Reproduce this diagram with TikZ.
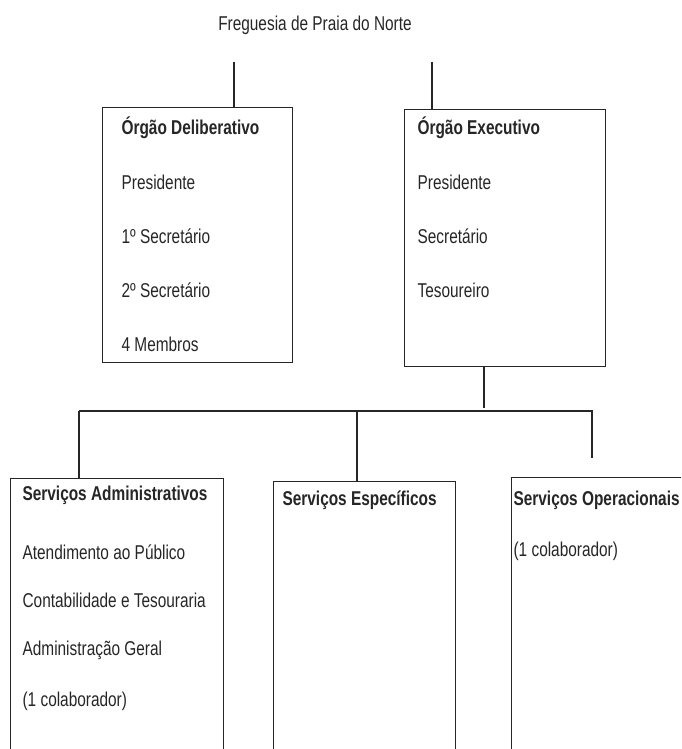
\documentclass[tikz,border=0pt]{standalone}
\usepackage{fontspec}
\setmainfont[FakeStretch=0.77]{Liberation Sans}
\usetikzlibrary{positioning}

\begin{document}
\begin{tikzpicture}[x=1pt, y=-1pt, color=black!85, line width=1.2pt,
    box/.style={draw, inner sep=0pt, anchor=north west},
    head/.style={font=\fontsize{20}{23}\selectfont\bfseries, inner sep=0pt,
      text height=14pt, text depth=4pt, anchor=west},
    item/.style={font=\fontsize{20}{23}\selectfont, inner sep=0pt,
      text height=14pt, text depth=4pt}]
          \useasboundingbox (0,0) rectangle (681,749);
          \clip (0,0) rectangle (681,749);

          \node[font=\fontsize{20}{23}\selectfont] (freg) at (315,25) {Freguesia de Praia do Norte};

          \node[box, minimum width=190pt, minimum height=255pt] (delib) at (102,107) {};
          \node[box, minimum width=201pt, minimum height=257pt] (exec) at (404,109) {};
          \node[box, minimum width=213pt, minimum height=300pt] (admin) at (10,478) {};
          \node[box, minimum width=182pt, minimum height=300pt] (spec) at (273,481) {};
          \node[box, minimum width=220pt, minimum height=300pt] (oper) at (511,477) {};

          \node[head] (d0) at (121,130) {Órgão Deliberativo};
          \node[item, below right=35pt and 0pt of d0.south west] (d1) {Presidente};
          \node[item, below right=35pt and 0pt of d1.south west] (d2) {1º Secretário};
          \node[item, below right=35pt and 0pt of d2.south west] (d3) {2º Secretário};
          \node[item, below right=35pt and 0pt of d3.south west] (d4) {4 Membros};

          \node[head] (e0) at (417,130) {Órgão Executivo};
          \node[item, below right=35pt and 0pt of e0.south west] (e1) {Presidente};
          \node[item, below right=35pt and 0pt of e1.south west] (e2) {Secretário};
          \node[item, below right=35pt and 0pt of e2.south west] (e3) {Tesoureiro};

          \node[head] (a0) at (22,495) {Serviços Administrativos};
          \node[item, below right=40pt and 0pt of a0.south west] (a1) {Atendimento ao Público};
          \node[item, below right=29pt and 0pt of a1.south west] (a2) {Contabilidade e Tesouraria};
          \node[item, below right=29pt and 0pt of a2.south west] (a3) {Administração Geral};
          \node[item, below right=32pt and 0pt of a3.south west] (a4) {(1 colaborador)};

          \node[head] (s0) at (282,500) {Serviços Específicos};

          \node[head] (o0) at (513,500) {Serviços Operacionais};
          \node[item, below right=32pt and 0pt of o0.south west] (o1) {(1 colaborador)};

          \coordinate (upD) at (234,62);
          \coordinate (upE) at (432,62);
          \coordinate (downE) at (484,408);
          \coordinate (busL) at (79,411);
          \coordinate (busM) at (357,411);
          \coordinate (busR) at (592,411);
          \coordinate (endO) at (592,458);

          \draw (upD) -- (upD |- delib.north);
          \draw (upE) -- (upE |- exec.north);
          \draw (downE |- exec.south) -- (downE);
          \draw (busL) -- (busR) -- (endO);
          \draw (busL) -- (busL |- admin.north);
          \draw (busM) -- (busM |- spec.north);
        \end{tikzpicture}
\end{document}
